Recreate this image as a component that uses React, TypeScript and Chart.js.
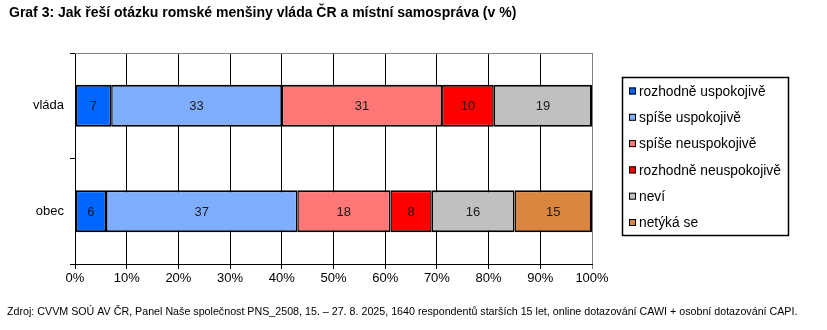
import React, { useEffect, useRef } from "react";
import { Chart, registerables } from "chart.js";

Chart.register(...registerables);

const TITLE = "Graf 3: Jak řeší otázku romské menšiny vláda ČR a místní samospráva (v %)";
const SOURCE =
  "Zdroj: CVVM SOÚ AV ČR, Panel Naše společnost PNS_2508, 15. – 27. 8. 2025, 1640 respondentů starších 15 let, online dotazování CAWI + osobní dotazování CAPI.";

const categories = ["vláda", "obec"];
const seriesNames = [
  "rozhodně uspokojivě",
  "spíše uspokojivě",
  "spíše neuspokojivě",
  "rozhodně neuspokojivě",
  "neví",
  "netýká se",
];
const rozhodneUspokojive = [7, 6];
const spiseUspokojive = [33, 37];
const spiseNeuspokojive = [31, 18];
const rozhodneNeuspokojive = [10, 8];
const nevi = [19, 16];
const netykaSe: (number | null)[] = [null, 15];
const seriesColors = ["#0066FF", "#80AEFF", "#FF7777", "#FF0000", "#C0C0C0", "#DA8640"];
const xTicks = [0, 10, 20, 30, 40, 50, 60, 70, 80, 90, 100];

const FONT = "'Liberation Sans', Arial, sans-serif";

const decorPlugin = {
  id: "decor",
  afterDraw(chart: any) {
    const ctx = chart.ctx;
    const area = chart.chartArea;
    ctx.save();
    // top gray border
    ctx.strokeStyle = "#808080";
    ctx.lineWidth = 1;
    ctx.beginPath();
    ctx.moveTo(area.left, area.top + 0.5);
    ctx.lineTo(area.right + 0.5, area.top + 0.5);
    ctx.stroke();

    // data labels
    ctx.fillStyle = "#1a1a1a";
    ctx.font = `13px ${FONT}`;
    ctx.textAlign = "center";
    ctx.textBaseline = "middle";
    chart.data.datasets.forEach((ds: any, i: number) => {
      const meta = chart.getDatasetMeta(i);
      meta.data.forEach((el: any, j: number) => {
        const v = ds.data[j];
        if (v === null || v === undefined) return;
        const cx = (el.x + el.base) / 2;
        ctx.fillText(String(v), cx, el.y + 1);
      });
    });

    // title
    ctx.fillStyle = "#000";
    ctx.textAlign = "left";
    ctx.font = `bold 14px ${FONT}`;
    ctx.fillText(TITLE, 9, 13);

    // source
    ctx.font = `10.7px ${FONT}`;
    ctx.fillText(SOURCE, 7, 312);

    // legend
    const lx = 622, ly = 77, lw = 166, lh = 158;
    ctx.strokeStyle = "#000";
    ctx.lineWidth = 1.5;
    ctx.strokeRect(lx + 0.5, ly + 0.5, lw, lh);
    ctx.font = `13.8px ${FONT}`;
    chart.data.datasets.forEach((ds: any, i: number) => {
      const y = 91 + i * 26.3;
      ctx.fillStyle = ds.backgroundColor;
      ctx.fillRect(629, y - 3.5, 7, 7);
      ctx.lineWidth = 1;
      ctx.strokeStyle = "#000";
      ctx.strokeRect(629.5, y - 3, 6, 6);
      ctx.fillStyle = "#000";
      ctx.fillText(ds.label, 639, y + 1);
    });
    ctx.restore();
  },
};

export default function App() {
  const ref = useRef<HTMLCanvasElement | null>(null);
  useEffect(() => {
    document.body.style.margin = "0";
    const values = [
      rozhodneUspokojive,
      spiseUspokojive,
      spiseNeuspokojive,
      rozhodneNeuspokojive,
      nevi,
      netykaSe,
    ];
    const isLast = (di: number, idx: number) => {
      for (let k = di + 1; k < values.length; k++) {
        if (values[k][idx] !== null && values[k][idx] !== undefined) return false;
      }
      return true;
    };
    const chart = new Chart(ref.current as HTMLCanvasElement, {
      type: "bar",
      data: {
        labels: categories,
        datasets: seriesNames.map((name, i) => ({
          label: name,
          data: values[i] as any,
          backgroundColor: seriesColors[i],
          borderColor: "#000",
          borderWidth: (c: any) => ({
            top: 2,
            bottom: 2,
            left: c.datasetIndex === 0 ? 2 : 1.5,
            right: isLast(c.datasetIndex, c.dataIndex) ? 2 : 1.5,
          }),
          borderSkipped: false,
          categoryPercentage: 1,
          barPercentage: 0.4,
        })),
      },
      options: {
        indexAxis: "y",
        animation: false,
        responsive: false,
        layout: { padding: { top: 53, right: 235, bottom: 0, left: 0 } },
        plugins: {
          legend: { display: false },
          title: { display: false },
          tooltip: { enabled: false },
        },
        scales: {
          x: {
            stacked: true,
            min: 0,
            max: 100,
            afterFit: (s: any) => {
              s.height = 66;
            },
            afterBuildTicks: (s: any) => {
              s.ticks = xTicks.map((v) => ({ value: v }));
            },
            ticks: {
              color: "#000",
              font: { family: FONT, size: 13 },
              padding: 2,
              callback: (v: any) => v + "%",
              maxRotation: 0,
            },
            grid: {
              color: (c: any) => (c.tick && c.tick.value === 100 ? "#808080" : "#000"),
              lineWidth: 1,
              tickLength: 5,
              drawTicks: true,
            },
            border: { display: true, color: "#000", width: 1 },
          },
          y: {
            stacked: true,
            afterFit: (s: any) => {
              s.width = 75;
            },
            ticks: {
              color: "#000",
              font: { family: FONT, size: 13 },
              padding: 6,
            },
            grid: {
              offset: true,
              drawOnChartArea: false,
              color: "#000",
              tickLength: 5,
            },
            border: { display: true, color: "#000", width: 1 },
          },
        },
      },
      plugins: [decorPlugin],
    });
    return () => chart.destroy();
  }, []);
  return (
    <div style={{ width: 827, height: 330 }}>
      <canvas ref={ref} width={827} height={330} style={{ display: "block" }} />
    </div>
  );
}
